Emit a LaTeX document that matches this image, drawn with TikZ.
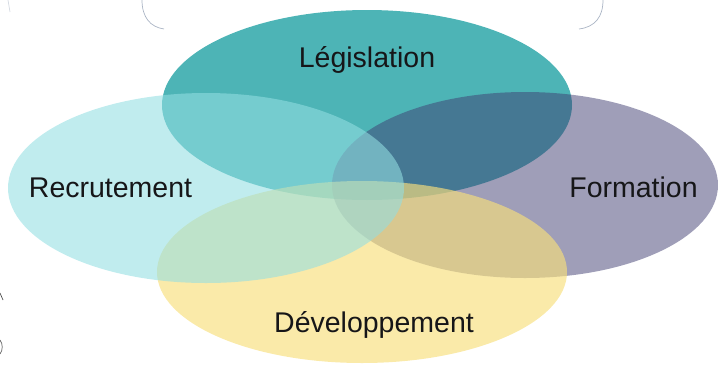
\documentclass[tikz,border=0pt]{standalone}
\usepackage{fontspec}
\setmainfont{Liberation Sans}
\usetikzlibrary{shapes.geometric}
\definecolor{colL}{RGB}{77,180,182}
\definecolor{colF}{RGB}{63,61,113}
\definecolor{colD}{RGB}{247,223,125}
\definecolor{colR}{RGB}{147,222,226}
\definecolor{txtcol}{RGB}{22,22,24}
\definecolor{framecol}{RGB}{170,180,196}
\begin{document}
\begin{tikzpicture}[x=1pt,y=-1pt,
  ell/.style={ellipse, draw=none, inner sep=0pt},
  lbl/.style={anchor=base, text=txtcol, inner sep=0pt, font=\fontsize{28.5}{34}\selectfont},
  framearc/.style={draw=framecol, line width=0.7pt}]
\useasboundingbox (0,0) rectangle (718,365);
% faint frame remnants
\coordinate (fl1) at (142,0);
\coordinate (fl2) at (164,29);
\coordinate (fr1) at (603,0);
\coordinate (fr2) at (579,29);
\draw[framearc] (fl1) .. controls (142,17) and (150,27) .. (fl2);
\draw[framearc] (fr1) .. controls (603,17) and (595,27) .. (fr2);
\coordinate (m1) at (8,0);
\coordinate (m2) at (10,12);
\draw[framearc, draw opacity=0.5] (m1) -- (m2);
\coordinate (s1) at (0,293);
\coordinate (s2) at (3,300);
\draw[framearc, draw=black!70] (s1) -- (s2);
\coordinate (s3) at (0,340);
\coordinate (s4) at (0,354);
\draw[framearc, draw=black!60] (s3) .. controls (3,344) and (3,350) .. (s4);
% ellipses
\node[ell, fill=colL, minimum width=410pt, minimum height=190pt] (leg) at (367,105) {};
\node[ell, fill=colF, fill opacity=0.5, minimum width=386pt, minimum height=186pt] (form) at (525,185) {};
\node[ell, fill=colD, fill opacity=0.66, minimum width=410pt, minimum height=182pt] (dev) at (362,272) {};
\node[ell, fill=colR, fill opacity=0.58, minimum width=396pt, minimum height=190pt] (rec) at (206,188) {};
% labels
\node[lbl] (tleg) at (367,67) {Législation};
\node[lbl] (trec) at (110.5,197) {Recrutement};
\node[lbl] (tform) at (633.5,197) {Formation};
\node[lbl] (tdev) at (374,332) {Développement};
\end{tikzpicture}
\end{document}
